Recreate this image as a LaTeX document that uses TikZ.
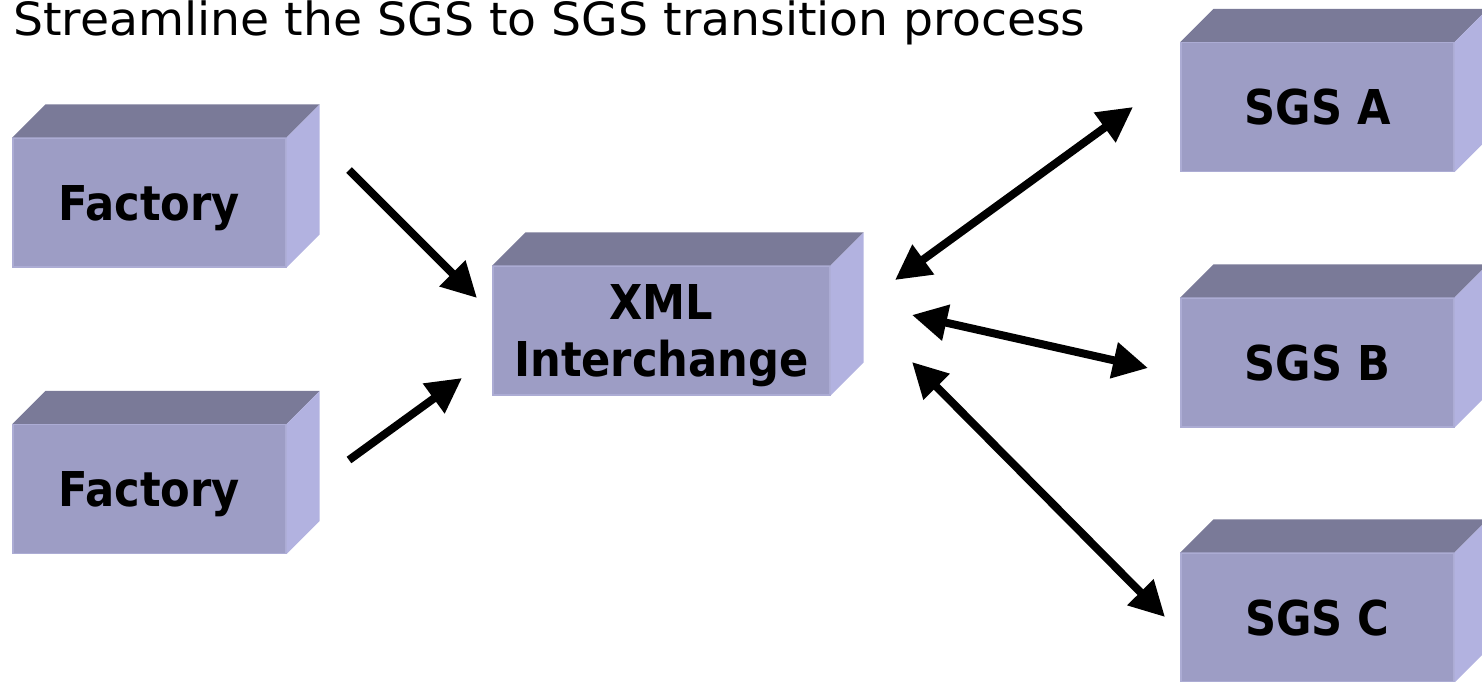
\documentclass[tikz,border=0pt]{standalone}
\usepackage{fontspec}
\setmainfont{DejaVu Sans}
\newfontfamily\labelfont{DejaVu Sans Condensed}
\newfontfamily\titlefont{DejaVu Sans}
\usetikzlibrary{arrows.meta}
\definecolor{frontc}{RGB}{157,157,197}
\definecolor{topc}{RGB}{122,122,152}
\definecolor{sidec}{RGB}{178,178,224}
\definecolor{edgec}{RGB}{172,172,212}
\tikzset{
  front/.style={fill=frontc, draw=edgec, line width=0.6pt, minimum width=136.5pt,
    minimum height=64.5pt, inner sep=0pt},
  labeltext/.style={inner sep=0pt, align=center, text depth=0pt,
    font=\labelfont\bfseries\fontsize{24}{28.5}\selectfont},
  topface/.style={fill=topc},
  sideface/.style={fill=sidec},
  link/.style={line width=4pt, -{Triangle[length=17.5pt,width=17.5pt]}},
  dlink/.style={line width=4pt, {Triangle[length=17.5pt,width=17.5pt]}-{Triangle[length=17.5pt,width=17.5pt]}},
}
\newcommand\cubebox[5][136.5pt]{%
  \node[front, minimum width=#1] (#2) at (#3,#4) {};
  \fill[topface] (#2.north west) -- ([shift={(33,-33)}]#2.north west)
     -- ([shift={(33,-33)}]#2.north east) -- (#2.north east) -- cycle;
  \fill[sideface] (#2.north east) -- ([shift={(33,-33)}]#2.north east)
     -- ([shift={(33,-33)}]#2.south east) -- (#2.south east) -- cycle;
  \node[labeltext] (#2-t) at (#2.center) {#5};
}
\begin{document}
\begin{tikzpicture}[x=0.5pt,y=-0.5pt]
\useasboundingbox (0,0) rectangle (1482,681);
\node[anchor=base west, inner sep=0pt, font=\titlefont\fontsize{22.9}{27}\selectfont] (title) at (13,35) {\resizebox{536pt}{\height}{Streamline the SGS to SGS transition process}};
\cubebox{f1}{149.5}{202.5}{Factory}
\cubebox{f2}{149.5}{489}{Factory}
\cubebox[168.5pt]{xml}{661.5}{330.5}{XML\\Interchange}
\cubebox{sa}{1317.5}{107}{SGS A}
\cubebox{sb}{1317.5}{362.5}{SGS B}
\cubebox{sc}{1317.5}{617.5}{SGS C}
\coordinate (f1s) at (349,170);
\coordinate (f1e) at (477,298);
\coordinate (f2s) at (349,460);
\coordinate (f2e) at (462,378);
\coordinate (xa) at (895,280);
\coordinate (ae) at (1133,107);
\coordinate (xb) at (912,315);
\coordinate (be) at (1148,368);
\coordinate (xc) at (912,362);
\coordinate (ce) at (1165,617);
\draw[link] (f1s) -- (f1e);
\draw[link] (f2s) -- (f2e);
\draw[dlink] (xa) -- (ae);
\draw[dlink] (xb) -- (be);
\draw[dlink] (xc) -- (ce);
\end{tikzpicture}
\end{document}
